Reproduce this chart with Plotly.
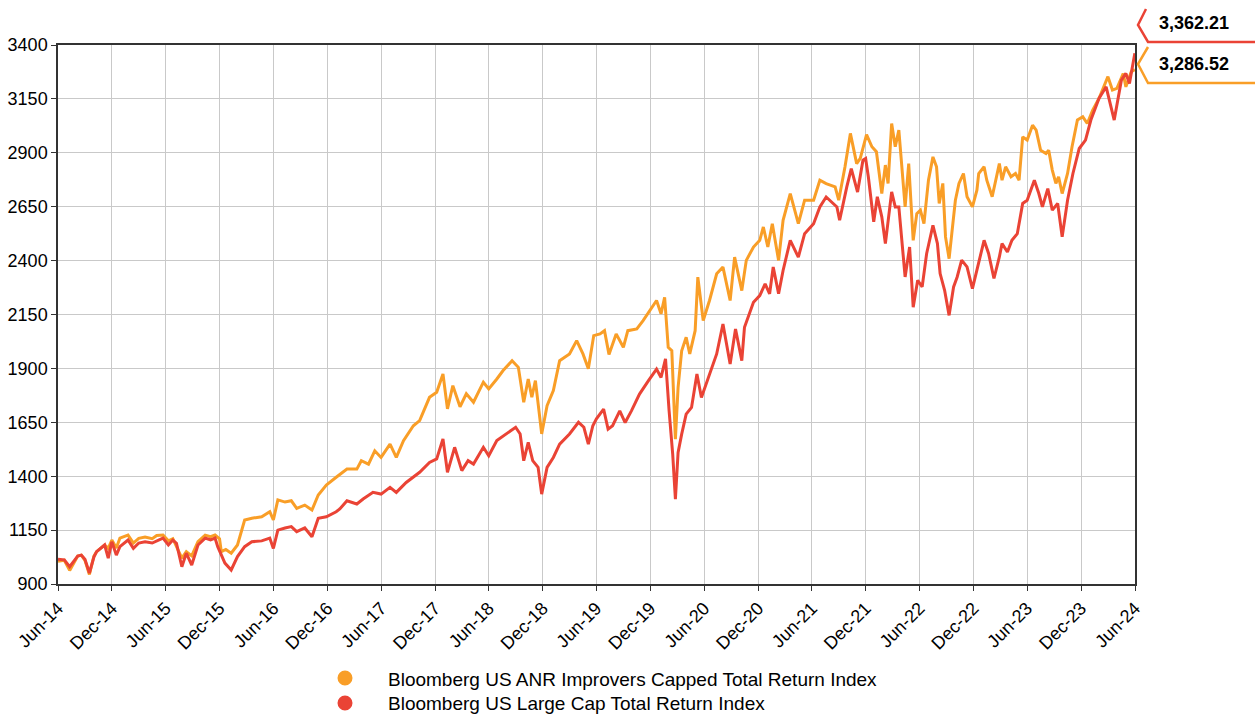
import numpy as np
import pandas as pd
import plotly.graph_objects as go

# ---------------- data ----------------
# x positions are given as months elapsed since 1 Jun 2014
orange_name = "Bloomberg US ANR Improvers Capped Total Return Index"
orange_month = [
    0, 0.7, 1.3, 1.8, 2.2, 2.6, 3.0, 3.5, 4.0, 4.3, 5.2, 5.6, 6.0, 6.5, 6.9, 7.8, 8.4, 9.0,
    9.7, 10.5, 11.0, 11.7, 12.3, 12.8, 13.2, 13.8, 14.3, 14.9, 15.6, 16.4, 17.0, 17.5, 18.0,
    18.2, 18.7, 19.3, 20.0, 20.8, 21.6, 22.7, 23.6, 24.0, 24.5, 25.3, 26.0, 26.6, 27.5, 28.3,
    29.0, 29.9, 31.0, 32.2, 33.3, 33.8, 34.6, 35.3, 36.0, 37.0, 37.7, 38.5, 39.6, 40.3, 41.4,
    42.2, 42.9, 43.4, 44.0, 44.8, 45.5, 46.3, 47.4, 48.0, 48.9, 49.6, 50.6, 51.3, 51.9, 52.4,
    52.8, 53.2, 53.9, 54.5, 55.2, 55.9, 57.0, 57.8, 58.5, 59.1, 59.7, 60.4, 60.9, 61.4, 62.2,
    63.0, 63.5, 64.5, 65.2, 65.9, 66.7, 67.2, 67.6, 68.0, 68.4, 68.8, 69.1, 69.5, 70.0, 70.4,
    71.0, 71.3, 71.9, 72.6, 73.4, 74.1, 74.9, 75.4, 76.2, 76.7, 77.5, 78.2, 78.6, 79.1, 79.6,
    80.3, 80.8, 81.6, 82.5, 83.2, 84.2, 84.9, 85.6, 86.6, 87.0, 87.7, 88.3, 89.0, 89.4, 90.1,
    90.7, 91.2, 91.8, 92.2, 92.5, 92.9, 93.3, 93.7, 94.0, 94.4, 94.8, 95.0, 95.3, 95.7, 96.1,
    96.5, 97.0, 97.5, 97.9, 98.2, 98.6, 98.9, 99.3, 99.6, 100.0, 100.4, 100.9, 101.3, 101.9,
    102.4, 102.6, 103.2, 103.5, 104.1, 104.5, 104.9, 105.2, 105.6, 106.2, 106.7, 107.1, 107.5,
    108.0, 108.6, 109.0, 109.5, 110.1, 110.4, 110.8, 111.2, 111.5, 111.9, 112.5, 113.0, 113.6,
    114.2, 114.7, 115.3, 116.0, 117.0, 117.5, 118.0, 118.7, 119.0, 119.6, 120.0,
]
orange_value = [
    1005, 1010, 963, 1000, 1030, 1034, 1010, 944, 1030, 1050, 1081, 1065, 1104, 1067, 1113, 1127, 1090, 1112,
    1118, 1110, 1125, 1127, 1100, 1110, 1073, 1020, 1050, 1030, 1096, 1127, 1120, 1127, 1110,
    1050, 1060, 1043, 1081, 1197, 1205, 1212, 1235, 1197, 1290, 1280, 1286, 1251, 1266, 1243,
    1313, 1359, 1395, 1433, 1433, 1472, 1456, 1518, 1487, 1549, 1487, 1565, 1634, 1658, 1766,
    1789, 1874, 1712, 1820, 1722, 1782, 1743, 1836, 1805, 1851, 1890, 1936, 1905, 1743, 1851,
    1766, 1843, 1596, 1727, 1797, 1936, 1967, 2029, 1967, 1898, 2052, 2060, 2075, 1965, 2060,
    1998, 2075, 2083, 2122, 2168, 2215, 2153, 2230, 1998, 1982, 1572, 1812, 1982, 2044, 1967,
    2075, 2323, 2122, 2215, 2339, 2370, 2215, 2416, 2261, 2401, 2463, 2494, 2556, 2463, 2571,
    2401, 2587, 2711, 2571, 2680, 2680, 2773, 2757, 2742, 2680, 2835, 2990, 2850, 2874, 2984,
    2928, 2905, 2711, 2843, 2758, 3036, 2928, 3005, 2835, 2649, 2850, 2727, 2494, 2618, 2634,
    2572, 2773, 2881, 2835, 2665, 2758, 2510, 2409, 2525, 2680, 2758, 2804, 2696, 2649,
    2727, 2804, 2835, 2773, 2696, 2773, 2850, 2773, 2835, 2789, 2804, 2773, 2974,
    2959, 3028, 3005, 2912, 2897, 2912, 2820, 2758, 2789, 2711, 2804, 2928, 3052,
    3067, 3036, 3098, 3152, 3253, 3191, 3199, 3268, 3206, 3276, 3286.52,
]

red_name = "Bloomberg US Large Cap Total Return Index"
red_month = [
    0, 0.7, 1.3, 1.8, 2.2, 2.6, 3.0, 3.5, 4.0, 4.3, 5.2, 5.6, 6.0, 6.5, 6.9, 7.8, 8.4, 9.0,
    9.7, 10.5, 11.0, 11.7, 12.3, 12.8, 13.2, 13.8, 14.3, 14.9, 15.6, 16.4, 17.0, 17.5, 17.8,
    18.2, 18.6, 19.3, 20.0, 20.8, 21.6, 22.7, 23.6, 24.0, 24.5, 25.3, 26.0, 26.6, 27.5, 28.3,
    29.0, 29.9, 31.0, 31.4, 32.2, 33.3, 34.0, 35.1, 36.0, 37.0, 37.7, 38.8, 40.3, 41.4, 42.2,
    42.9, 43.4, 44.2, 45.0, 45.7, 46.3, 47.4, 48.0, 48.9, 50.0, 51.0, 51.5, 51.9, 52.4, 52.9,
    53.5, 53.9, 54.5, 55.2, 55.9, 57.0, 58.0, 58.6, 59.1, 59.6, 60.0, 60.8, 61.3, 61.8, 62.6,
    63.2, 63.9, 64.8, 65.8, 66.7, 67.2, 67.7, 68.1, 68.5, 68.8, 69.1, 69.5, 70.0, 70.6, 71.2,
    71.7, 72.5, 73.4, 74.1, 74.9, 75.5, 76.2, 76.5, 77.5, 78.2, 78.8, 79.3, 79.7, 80.3, 80.8,
    81.6, 82.5, 83.2, 84.2, 84.9, 85.6, 86.8, 87.1, 87.9, 88.4, 89.1, 89.7, 90.0, 90.3, 90.9,
    91.3, 91.8, 92.2, 92.9, 93.3, 93.7, 94.0, 94.4, 94.9, 95.3, 95.8, 96.3, 96.8, 97.5, 98.0,
    98.3, 98.8, 99.3, 99.8, 100.2, 100.7, 101.3, 101.9, 102.4, 103.2, 103.7, 104.3, 104.9,
    105.2, 105.8, 106.3, 106.9, 107.5, 108.0, 108.8, 109.3, 109.7, 110.3, 110.8, 111.4, 111.9,
    112.5, 113.1, 113.8, 114.5, 115.1, 116.0, 116.8, 117.3, 117.7, 118.5, 119.0, 119.4, 120.0,
]
red_value = [
    1015, 1012, 980, 1010, 1030, 1034, 1015, 951, 1025, 1050, 1081, 1020, 1096, 1034, 1073, 1104, 1065, 1090,
    1096, 1090, 1100, 1113, 1081, 1104, 1089, 980, 1043, 988, 1081, 1113, 1105, 1113, 1073,
    1034, 997, 965, 1027, 1073, 1096, 1100, 1113, 1065, 1150, 1160, 1166, 1143, 1160, 1119,
    1205, 1212, 1235, 1248, 1286, 1271, 1294, 1325, 1317, 1348, 1325, 1371, 1418, 1464, 1480,
    1573, 1418, 1534, 1426, 1472, 1456, 1534, 1495, 1565, 1596, 1627, 1596, 1472, 1557, 1472,
    1441, 1317, 1441, 1487, 1549, 1596, 1650, 1627, 1549, 1634, 1666, 1711, 1618, 1634, 1703,
    1649, 1703, 1781, 1843, 1897, 1858, 1944, 1703, 1502, 1293, 1510, 1595, 1688, 1719, 1874,
    1765, 1858, 1967, 2106, 1920, 2083, 1936, 2091, 2207, 2238, 2292, 2246, 2370, 2246, 2354,
    2494, 2416, 2525, 2571, 2649, 2695, 2649, 2587, 2742, 2827, 2718, 2866, 2874, 2789, 2580,
    2696, 2603, 2479, 2719, 2649, 2649, 2494, 2324, 2463, 2184, 2309, 2278, 2433, 2564, 2479,
    2340, 2262, 2146, 2278, 2324, 2402, 2371, 2270, 2355, 2494, 2433, 2317, 2417,
    2479, 2440, 2494, 2525, 2665, 2680, 2773, 2711, 2649, 2734, 2634, 2665, 2510,
    2680, 2804, 2920, 2959, 3052, 3152, 3206, 3114, 3052, 3237, 3268, 3222, 3362.21,
]

tick_dates = ["2014-06-01", "2014-12-01", "2015-06-01", "2015-12-01", "2016-06-01", "2016-12-01",
              "2017-06-01", "2017-12-01", "2018-06-01", "2018-12-01", "2019-06-01", "2019-12-01",
              "2020-06-01", "2020-12-01", "2021-06-01", "2021-12-01", "2022-06-01", "2022-12-01",
              "2023-06-01", "2023-12-01", "2024-06-01"]
tick_labels = ["Jun-14", "Dec-14", "Jun-15", "Dec-15", "Jun-16", "Dec-16", "Jun-17", "Dec-17",
               "Jun-18", "Dec-18", "Jun-19", "Dec-19", "Jun-20", "Dec-20", "Jun-21", "Dec-21",
               "Jun-22", "Dec-22", "Jun-23", "Dec-23", "Jun-24"]
y_ticks = [900, 1150, 1400, 1650, 1900, 2150, 2400, 2650, 2900, 3150, 3400]

ORANGE = "#F99E27"
RED = "#EA4335"
FONT = "Liberation Sans, Arial, sans-serif"

START = pd.Timestamp("2014-06-01")


def to_dates(months):
    return START + pd.to_timedelta(np.asarray(months, dtype=float) * 30.4375, unit="D")


# ---------------- figure ----------------
W, H = 1255, 715
ML, MR, MT, MB = 58, 120, 45, 131
PW, PH = W - ML - MR, H - MT - MB

fig = go.Figure()
fig.add_trace(go.Scatter(x=to_dates(orange_month), y=orange_value, mode="lines",
                         line=dict(color=ORANGE, width=3), showlegend=False, name=orange_name))
fig.add_trace(go.Scatter(x=to_dates(red_month), y=red_value, mode="lines",
                         line=dict(color=RED, width=3), showlegend=False, name=red_name))


def px(xp):
    return (xp - ML) / PW


def py(yp):
    return (H - MB - yp) / PH


def flag(top, apex, bottom, right, color):
    path = (f"M {px(top[0])},{py(top[1])} L {px(apex[0])},{py(apex[1])} "
            f"L {px(bottom[0])},{py(bottom[1])} L {px(right)},{py(bottom[1])}")
    return dict(type="path", xref="paper", yref="paper", path=path,
                line=dict(color=color, width=2.5))


def dot(cx, cy, r, color):
    return dict(type="circle", xref="paper", yref="paper",
                x0=px(cx - r), x1=px(cx + r), y0=py(cy + r), y1=py(cy - r),
                fillcolor=color, line=dict(width=0))


shapes = [
    flag((1146, 9), (1138, 25), (1148, 42), 1256, RED),
    flag((1148, 47), (1138, 64), (1148, 83), 1256, ORANGE),
    dot(345, 678, 7.5, ORANGE),
    dot(345, 703, 7.5, RED),
]

annotations = [
    dict(x=px(1157), y=py(23), xref="paper", yref="paper", xanchor="left", yanchor="middle",
         text=f"<b>{red_value[-1]:,.2f}</b>", showarrow=False,
         font=dict(family=FONT, size=18, color="#000000")),
    dict(x=px(1157), y=py(64), xref="paper", yref="paper", xanchor="left", yanchor="middle",
         text=f"<b>{orange_value[-1]:,.2f}</b>", showarrow=False,
         font=dict(family=FONT, size=18, color="#000000")),
    dict(x=px(386), y=py(679), xref="paper", yref="paper", xanchor="left", yanchor="middle",
         text=orange_name, showarrow=False,
         font=dict(family=FONT, size=19, color="#000000")),
    dict(x=px(386), y=py(704), xref="paper", yref="paper", xanchor="left", yanchor="middle",
         text=red_name, showarrow=False,
         font=dict(family=FONT, size=19, color="#000000")),
]

fig.update_layout(
    width=W, height=H,
    margin=dict(l=ML, r=MR, t=MT, b=MB, pad=0),
    paper_bgcolor="white", plot_bgcolor="white",
    font=dict(family=FONT, size=18, color="#000000"),
    shapes=shapes, annotations=annotations,
    showlegend=False,
)
fig.update_xaxes(
    type="date", range=["2014-06-01", "2024-06-01"],
    tickvals=tick_dates, ticktext=tick_labels, tickangle=-45,
    tickfont=dict(family=FONT, size=18, color="#000000"),
    showgrid=True, gridcolor="#c9c9c9", gridwidth=1,
    showline=True, linecolor="#333333", linewidth=1.5, mirror=True,
    ticks="outside", ticklen=5, tickcolor="#333333",
    zeroline=False, automargin=False,
)
fig.update_yaxes(
    range=[900, 3400], tickvals=y_ticks,
    tickfont=dict(family=FONT, size=18, color="#000000"),
    showgrid=True, gridcolor="#c9c9c9", gridwidth=1,
    showline=True, linecolor="#333333", linewidth=1.5, mirror=True,
    ticks="outside", ticklen=5, tickcolor="#333333",
    zeroline=False, automargin=False,
)

fig.write_html("out.html", config={"displayModeBar": False},
               post_script="document.body.style.margin='0';")
